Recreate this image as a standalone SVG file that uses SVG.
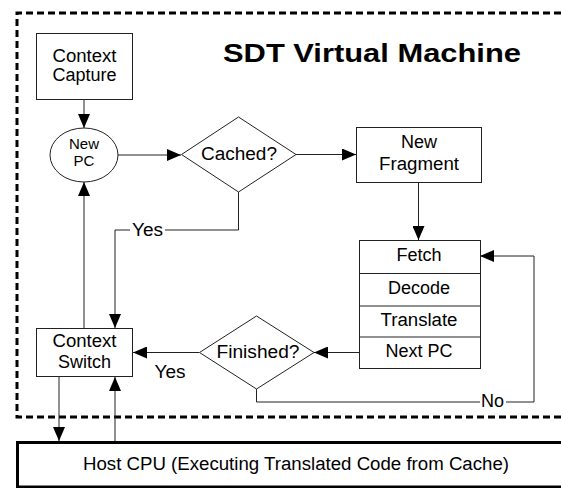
<svg xmlns="http://www.w3.org/2000/svg" width="561" height="488" viewBox="0 0 561 488">
<defs>
<style>
.box{fill:#fff;stroke:#222;stroke-width:1}
.ln{fill:none;stroke:#222;stroke-width:1}
.t{font-family:"Liberation Sans",Arial,sans-serif;font-size:18px;fill:#000;text-anchor:middle}
.s{font-size:15px}
.title{font-family:"Liberation Sans",Arial,sans-serif;font-size:26px;font-weight:bold;fill:#000}
</style>
<marker id="ah" markerWidth="14" markerHeight="12" refX="14" refY="6" orient="auto" markerUnits="userSpaceOnUse">
<path d="M0,0 L14,6 L0,12 z" fill="#000"/>
</marker>
</defs>
<rect x="0" y="0" width="561" height="488" fill="#fff"/>

<g id="vm-border">
<path d="M561,13 H17 V417 H561" fill="none" stroke="#000" stroke-width="3" stroke-dasharray="7 4"/>
</g>

<g id="title">
<text class="title" x="223" y="62" textLength="298" lengthAdjust="spacingAndGlyphs">SDT Virtual Machine</text>
</g>

<g id="connectors">
<line class="ln" x1="84" y1="99" x2="84" y2="128" marker-end="url(#ah)"/>
<line class="ln" x1="118" y1="155" x2="181" y2="155" marker-end="url(#ah)"/>
<line class="ln" x1="296" y1="154.5" x2="356" y2="154.5" marker-end="url(#ah)"/>
<line class="ln" x1="418.5" y1="182" x2="418.5" y2="240" marker-end="url(#ah)"/>
<polyline class="ln" points="238.5,192 238.5,230 115,230 115,328" marker-end="url(#ah)"/>
<line class="ln" x1="84" y1="328" x2="84" y2="182" marker-end="url(#ah)"/>
<line class="ln" x1="359" y1="352.5" x2="314" y2="352.5" marker-end="url(#ah)"/>
<line class="ln" x1="199" y1="352.5" x2="133" y2="352.5" marker-end="url(#ah)"/>
<polyline class="ln" points="256.5,389 256.5,402 534,402 534,256 480,256" marker-end="url(#ah)"/>
<line class="ln" x1="59" y1="377" x2="59" y2="441" marker-end="url(#ah)"/>
<line class="ln" x1="115" y1="441" x2="115" y2="377" marker-end="url(#ah)"/>
<rect x="130" y="220" width="35" height="20" fill="#fff"/>
<text class="t" x="147.5" y="236" textLength="31" lengthAdjust="spacingAndGlyphs">Yes</text>
<text class="t" x="170" y="378" textLength="31" lengthAdjust="spacingAndGlyphs">Yes</text>
<rect x="480" y="393" width="26" height="18" fill="#fff"/>
<text class="t" x="492.5" y="407" textLength="23" lengthAdjust="spacingAndGlyphs">No</text>
</g>

<g id="context-capture">
<rect class="box" x="36.5" y="33.5" width="96" height="66"/>
<text class="t" x="84.5" y="62" textLength="64" lengthAdjust="spacingAndGlyphs">Context</text>
<text class="t" x="84.5" y="81">Capture</text>
</g>

<g id="new-pc">
<ellipse class="box" cx="84" cy="155" rx="34" ry="27"/>
<text class="t s" x="84" y="149">New</text>
<text class="t s" x="84" y="166">PC</text>
</g>

<g id="cached">
<polygon class="box" points="181.5,154.5 238.5,117 296,154.5 238.5,192"/>
<text class="t" x="239" y="160" textLength="76" lengthAdjust="spacingAndGlyphs">Cached?</text>
</g>

<g id="new-fragment">
<rect class="box" x="356.5" y="127.5" width="125" height="55"/>
<text class="t" x="419" y="148">New</text>
<text class="t" x="419" y="170" textLength="80" lengthAdjust="spacingAndGlyphs">Fragment</text>
</g>

<g id="translator">
<rect class="box" x="359.5" y="240.5" width="121" height="128"/>
<line class="ln" x1="359.5" y1="273.5" x2="480.5" y2="273.5"/>
<line class="ln" x1="359.5" y1="306" x2="480.5" y2="306"/>
<line class="ln" x1="359.5" y1="337" x2="480.5" y2="337"/>
<text class="t" x="419" y="261">Fetch</text>
<text class="t" x="419" y="294">Decode</text>
<text class="t" x="419" y="326" textLength="77" lengthAdjust="spacingAndGlyphs">Translate</text>
<text class="t" x="419" y="357">Next PC</text>
</g>

<g id="finished">
<polygon class="box" points="199.5,352.5 256.5,316 314,352.5 256.5,389"/>
<text class="t" x="258" y="358" textLength="83" lengthAdjust="spacingAndGlyphs">Finished?</text>
</g>

<g id="context-switch">
<rect class="box" x="36.5" y="328.5" width="96" height="48"/>
<text class="t" x="84.5" y="347" textLength="64" lengthAdjust="spacingAndGlyphs">Context</text>
<text class="t" x="84.5" y="368">Switch</text>
</g>

<g id="host-cpu">
<rect x="17.5" y="442.5" width="600" height="44.5" fill="#fff" stroke="#000" stroke-width="3"/>
<text class="t" x="296" y="470" textLength="426" lengthAdjust="spacingAndGlyphs">Host CPU (Executing Translated Code from Cache)</text>
</g>
</svg>
